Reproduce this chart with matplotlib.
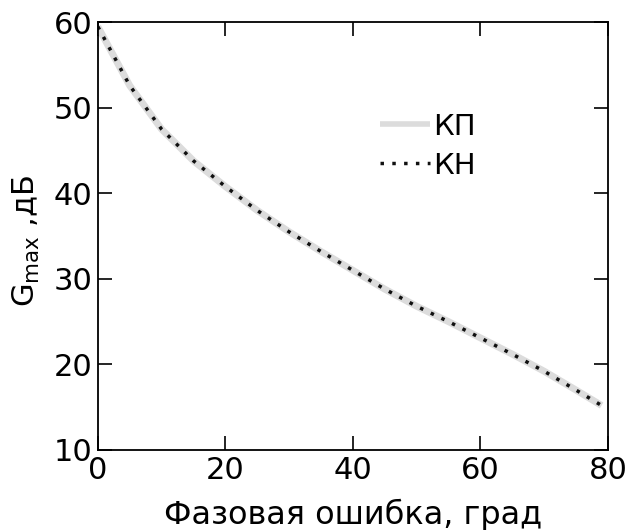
import matplotlib
matplotlib.use("Agg")
import matplotlib.pyplot as plt

phase_err = [0, 5, 10, 15, 20, 25, 30, 35, 40, 45, 50, 55, 60, 65, 70, 75, 79]
g_kp = [59.5, 52.6, 47.5, 43.8, 40.8, 38.0, 35.5, 33.2, 31.0, 28.8, 26.8, 25.0, 23.1, 21.2, 19.2, 17.0, 15.2]
g_kn = [59.5, 52.6, 47.5, 43.8, 40.8, 38.0, 35.5, 33.2, 31.0, 28.8, 26.8, 25.0, 23.1, 21.2, 19.2, 17.0, 15.2]

plt.rcParams['font.family'] = ['DejaVu Sans']
fig = plt.figure(figsize=(6.31, 5.30), dpi=100)
ax = fig.add_axes([0.155, 0.151, 0.8085, 0.807])

ax.plot(phase_err, g_kp, color='#dcdcdc', lw=5, label='КП', solid_capstyle='butt')
ax.plot(phase_err, g_kn, color='#111111', lw=2.5, ls=(0, (1, 2.4)), label='КН')

ax.set_xlim(0, 80)
ax.set_ylim(10, 60)
ax.set_xticks([0, 20, 40, 60, 80])
ax.set_yticks([10, 20, 30, 40, 50, 60])
ax.tick_params(direction='in', length=10, width=1.2, top=True, right=True,
               labelsize=22, colors='black')
ax.tick_params(axis='x', pad=4)
ax.tick_params(axis='y', pad=4)
for s in ax.spines.values():
    s.set_linewidth(1.3)

ax.set_xlabel('Фазовая ошибка, град', fontsize=23, labelpad=10)
ax.set_ylabel(r'$\mathregular{G_{max}}$ ,дБ', fontsize=22)
ax.yaxis.set_label_coords(-0.110, 0.49)

leg = ax.legend(loc='upper left', bbox_to_anchor=(0.553, 0.789), frameon=False,
                fontsize=21, handlelength=1.7, handletextpad=0.12, labelspacing=0.38,
                borderpad=0, borderaxespad=0)
leg.get_lines()[0].set_linewidth(4)

fig.savefig('out.png', dpi=100)
